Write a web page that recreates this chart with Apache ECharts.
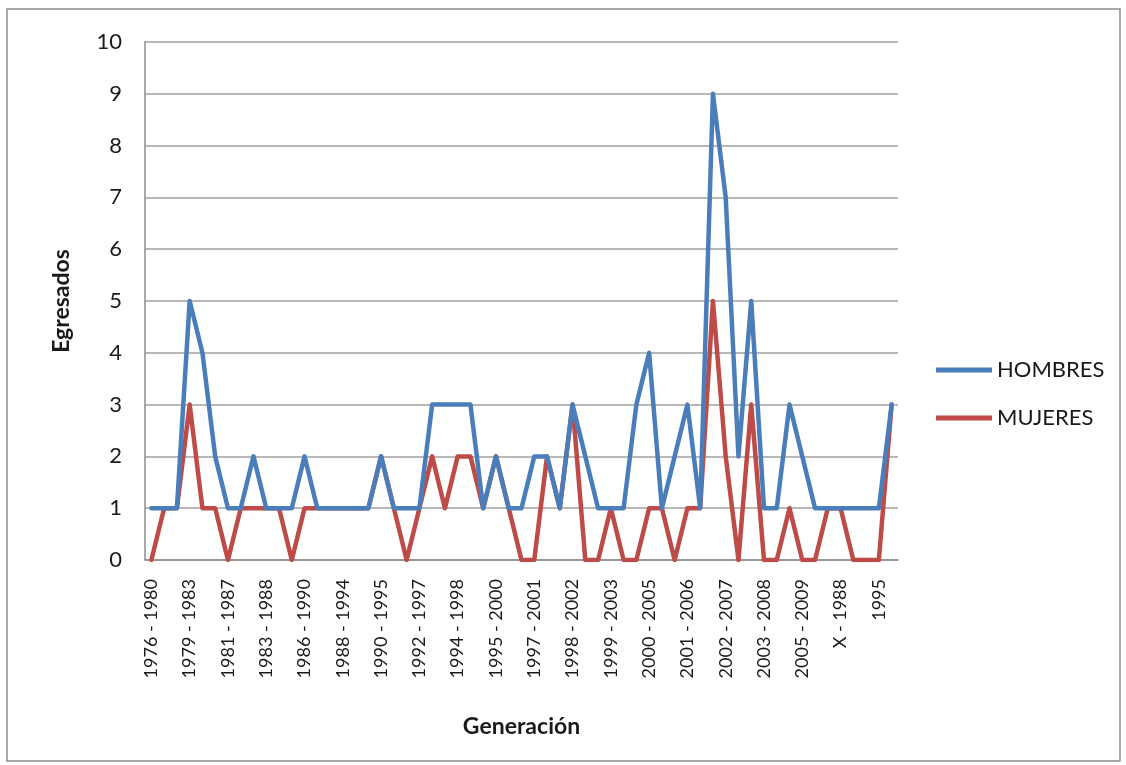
<!DOCTYPE html>
<html>
<head>
<meta charset="utf-8">
<script src="https://cdn.jsdelivr.net/npm/echarts@6/dist/echarts.min.js"></script>
<style>
  html, body { margin: 0; padding: 0; background: #fff; }
  #chart { width: 1126px; height: 765px; }
</style>
</head>
<body>
<div id="chart"></div>
<script>
// generaciones (solo se leen las que llevan etiqueta; las demás quedan en blanco)
const generaciones = [
  '1976 - 1980', '', '', '1979 - 1983', '', '', '1981 - 1987', '', '',
  '1983 - 1988', '', '', '1986 - 1990', '', '', '1988 - 1994', '', '',
  '1990 - 1995', '', '', '1992 - 1997', '', '', '1994 - 1998', '', '',
  '1995 - 2000', '', '', '1997 - 2001', '', '', '1998 - 2002', '', '',
  '1999 - 2003', '', '', '2000 - 2005', '', '', '2001 - 2006', '', '',
  '2002 - 2007', '', '', '2003 - 2008', '', '', '2005 - 2009', '', '',
  'X - 1988', '', '', '1995', ''
];

const hombres = [
  1, 1, 1, 5, 4, 2, 1, 1, 2, 1, 1, 1, 2, 1, 1, 1, 1, 1, 2, 1,
  1, 1, 3, 3, 3, 3, 1, 2, 1, 1, 2, 2, 1, 3, 2, 1, 1, 1, 3, 4,
  1, 2, 3, 1, 9, 7, 2, 5, 1, 1, 3, 2, 1, 1, 1, 1, 1, 1, 3
];

const mujeres = [
  0, 1, 1, 3, 1, 1, 0, 1, 1, 1, 1, 0, 1, 1, 1, 1, 1, 1, 2, 1,
  0, 1, 2, 1, 2, 2, 1, 2, 1, 0, 0, 2, 1, 3, 0, 0, 1, 0, 0, 1,
  1, 0, 1, 1, 5, 2, 0, 3, 0, 0, 1, 0, 0, 1, 1, 0, 0, 0, 3
];

const chart = echarts.init(document.getElementById('chart'));
const fuente = 'Lato, "Open Sans", sans-serif';

const option = {
  backgroundColor: '#fff',
  animation: false,
  textStyle: { fontFamily: fuente, color: '#1a1a1a' },
  graphic: [{
    type: 'rect',
    shape: { x: 7, y: 9, width: 1113, height: 752 },
    style: { fill: 'none', stroke: '#8c8c8c', lineWidth: 1.5 },
    silent: true
  }],
  legend: {
    data: ['HOMBRES', 'MUJERES'],
    orient: 'vertical',
    left: 931,
    top: 352,
    itemGap: 22,
    itemWidth: 56,
    itemHeight: 5,
    icon: 'rect',
    textStyle: { fontFamily: fuente, fontSize: 22, color: '#1a1a1a', lineHeight: 26 }
  },
  grid: {
    left: 145,
    right: 228,
    top: 42,
    bottom: 205
  },
  xAxis: {
    type: 'category',
    data: generaciones,
    boundaryGap: true,
    name: 'Generación',
    nameLocation: 'middle',
    nameGap: 155,
    nameTextStyle: { fontFamily: fuente, fontSize: 23, fontWeight: 'bold', color: '#1a1a1a' },
    axisLine: { lineStyle: { color: '#8c8c8c', width: 1.5 } },
    axisTick: { show: false },
    axisLabel: {
      interval: 2,
      rotate: 90,
      margin: 19,
      fontSize: 18,
      color: '#1a1a1a'
    }
  },
  yAxis: {
    type: 'value',
    min: 0,
    max: 10,
    interval: 1,
    name: 'Egresados',
    nameLocation: 'middle',
    nameGap: 72,
    nameRotate: 90,
    nameTextStyle: { fontFamily: fuente, fontSize: 23, fontWeight: 'bold', color: '#1a1a1a' },
    axisLine: { show: true, lineStyle: { color: '#8c8c8c', width: 1.5 } },
    axisTick: { show: false },
    axisLabel: { fontSize: 22, margin: 23, color: '#1a1a1a' },
    splitLine: { lineStyle: { color: '#a0a0a0', width: 1.5 } }
  },
  series: [
    {
      name: 'HOMBRES',
      type: 'line',
      data: hombres,
      z: 3,
      symbol: 'none',
      itemStyle: { color: '#4a7ebb' },
      lineStyle: { color: '#4a7ebb', width: 4.5, join: 'round', cap: 'round' }
    },
    {
      name: 'MUJERES',
      type: 'line',
      data: mujeres,
      z: 2,
      symbol: 'none',
      itemStyle: { color: '#be4b48' },
      lineStyle: { color: '#be4b48', width: 4.5, join: 'round', cap: 'round' }
    }
  ]
};

chart.setOption(option);
</script>
</body>
</html>
